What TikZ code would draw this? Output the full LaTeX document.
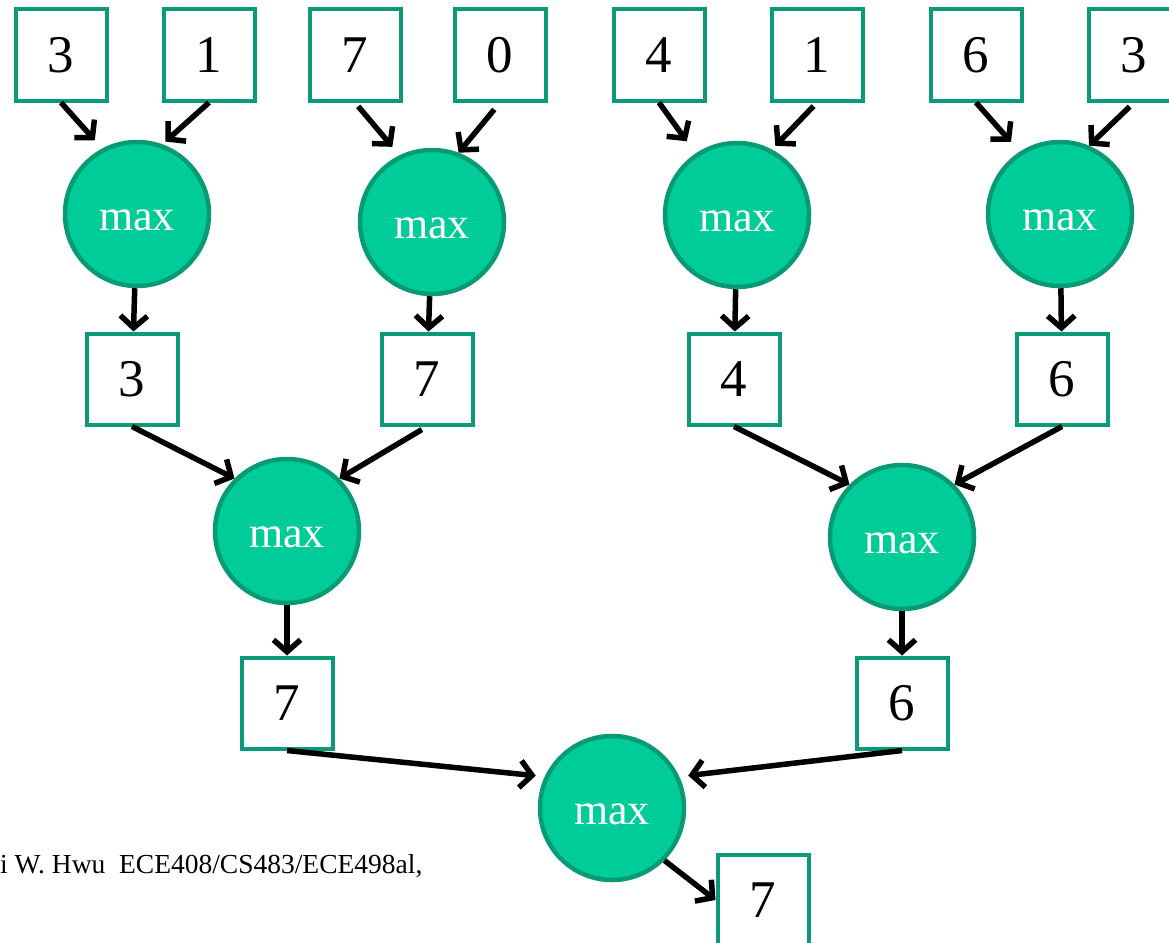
\documentclass[tikz,border=0pt]{standalone}
\usepackage{fontspec}
\setmainfont{Liberation Serif}
\usetikzlibrary{arrows.meta}

\definecolor{boxline}{HTML}{0A9A78}
\definecolor{maxfill}{HTML}{00CC99}
\definecolor{maxline}{HTML}{079A74}

\tikzset{
  val/.style={draw=boxline, line width=4pt, fill=white, minimum size=91pt,
    inner sep=0pt, font=\fontsize{53}{53}\selectfont},
  maxop/.style={circle, draw=maxline, line width=4.5pt, fill=maxfill,
    minimum size=144pt, inner sep=0pt, text=white, text height=32pt,
    text depth=0pt, font=\fontsize{44}{44}\selectfont},
  arr/.style={line width=5.5pt, -{Straight Barb[length=12pt,width=27pt]}},
}

\begin{document}
\begin{tikzpicture}[x=1pt, y=-1pt]
  \useasboundingbox (0,0) rectangle (1169,942);
  \begin{scope}
    % inputs
    \node[val] (i1) at (61,55) {3};
    \node[val] (i2) at (209,55) {1};
    \node[val] (i3) at (355,55) {7};
    \node[val] (i4) at (500,55) {0};
    \node[val] (i5) at (659,55) {4};
    \node[val] (i6) at (817,55) {1};
    \node[val] (i7) at (976,55) {6};
    \node[val] (i8) at (1134,55) {3};

    % first level
    \node[maxop] (m1) at (137,214) {max};
    \node[maxop] (m2) at (432,222) {max};
    \node[maxop] (m3) at (737,215) {max};
    \node[maxop] (m4) at (1060,214) {max};

    \node[val] (r1) at (132,379) {3};
    \node[val] (r2) at (427,379) {7};
    \node[val] (r3) at (734,379) {4};
    \node[val] (r4) at (1062,379) {6};

    % second level
    \node[maxop] (m5) at (287,531) {max};
    \node[maxop] (m6) at (902,537) {max};

    \node[val] (s1) at (287,703) {7};
    \node[val] (s2) at (902,703) {6};

    % last level
    \node[maxop] (m7) at (612,808) {max};
    \node[val] (t1) at (763,900) {7};

    \draw[arr, shorten >=11pt] (i1.south) -- (m1.118);
    \draw[arr, shorten >=4pt] (i2.south) -- (m1.70);
    \draw[arr, shorten <=5pt, shorten >=11pt] (i3.south) -- (m2.116);
    \draw[arr, shorten <=9pt] (i4.south) -- (m2.69);
    \draw[arr, shorten >=15pt] (i5.south) -- (m3.124);
    \draw[arr, shorten <=5pt, shorten >=5pt] (i6.south) -- (m3.62);
    \draw[arr, shorten >=13pt] (i7.south) -- (m4.123);
    \draw[arr, shorten <=6pt] (i8.south) -- (m4.67);

    \draw[arr] (m1) -- (r1);
    \draw[arr] (m2) -- (r2);
    \draw[arr] (m3) -- (r3);
    \draw[arr] (m4) -- (r4);

    \draw[arr] (r1.south) -- (m5.135);
    \draw[arr, shorten <=6pt] (r2.south) -- (m5.45);
    \draw[arr] (r3.south) -- (m6.135);
    \draw[arr] (r4.south) -- (m6.45);

    \draw[arr] (m5) -- (s1);
    \draw[arr] (m6) -- (s2);

    \draw[arr, shorten >=9pt] (s1.south) -- (m7.155);
    \draw[arr, shorten >=9pt] (s2.south) -- (m7.25);
    \draw[arr] (m7.-45) -- (t1.west);

    \node[anchor=base west, inner sep=0pt, font=\fontsize{27.5}{27.5}\selectfont]
      (foot) at (0,873) {i W. Hwu\ \ ECE408/CS483/ECE498al,};
  \end{scope}
\end{tikzpicture}
\end{document}
